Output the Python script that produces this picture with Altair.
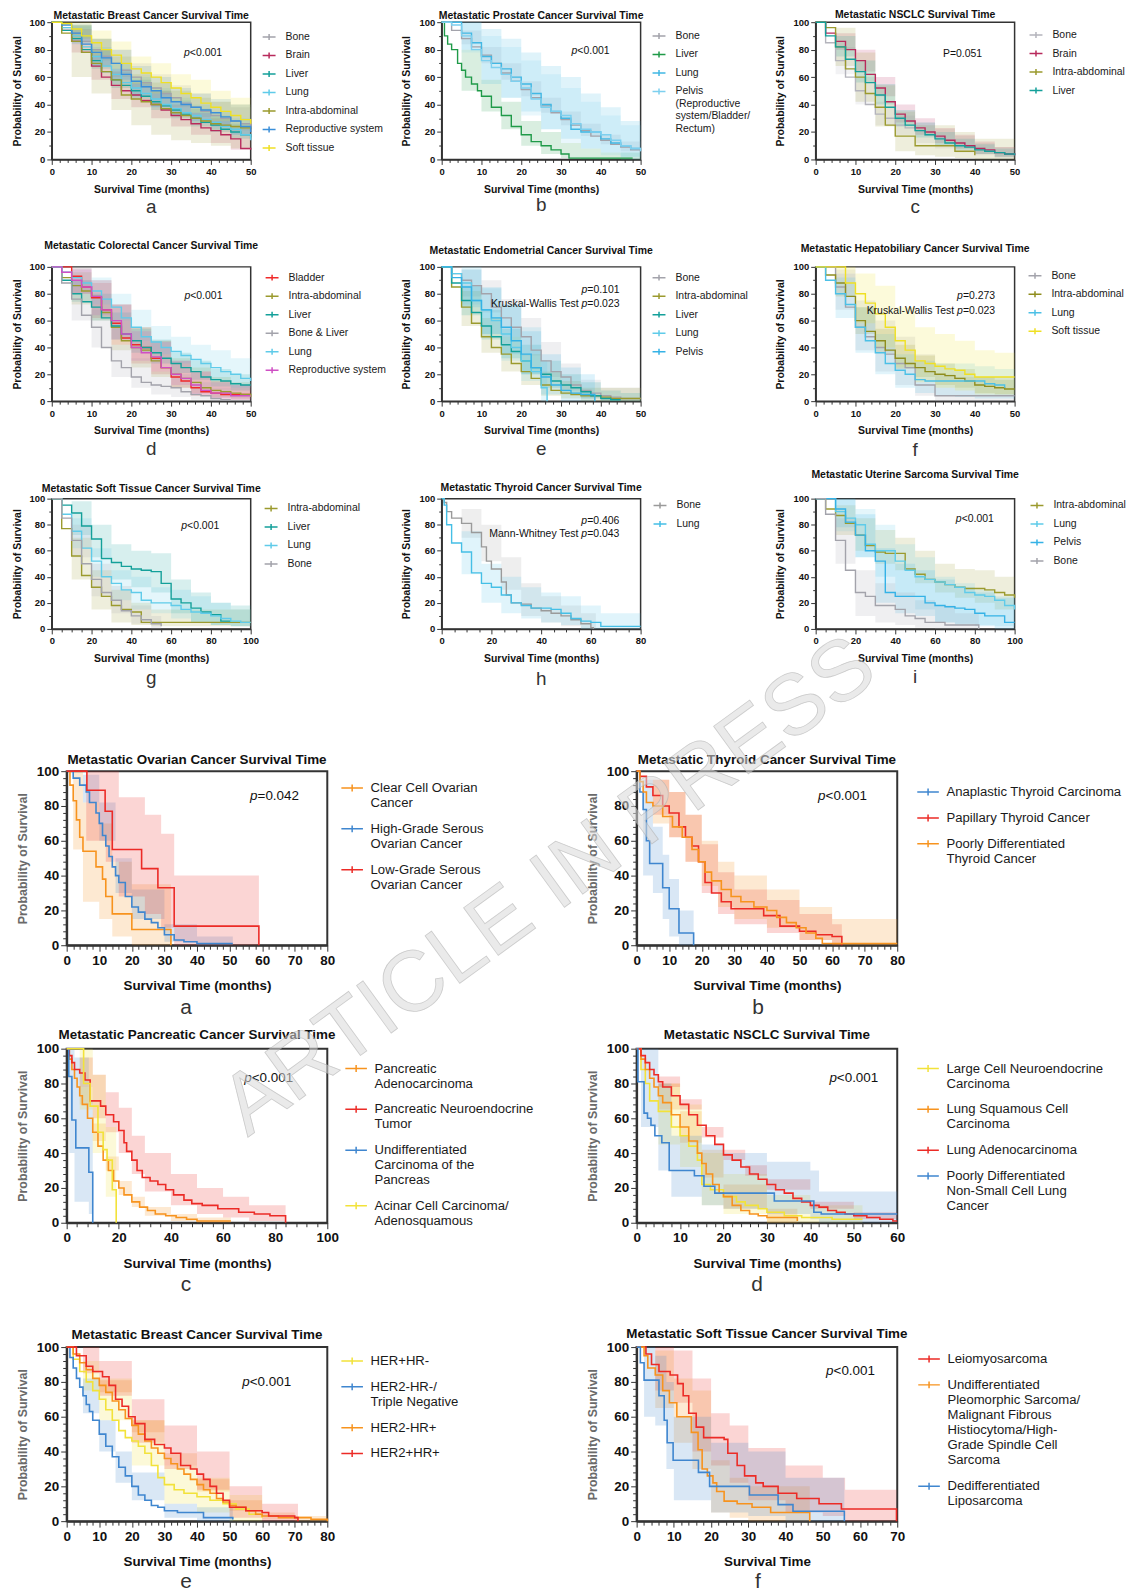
import altair as alt
import pandas as pd

FONT = "Liberation Sans, Arial, Helvetica, sans-serif"

# ---------------- time grids (months) ----------------
G50 = [0, 2.5, 5, 7.5, 10, 12.5, 15, 17.5, 20, 22.5, 25, 27.5, 30, 32.5, 35, 37.5, 40, 42.5, 45, 47.5, 50]
B50 = [0, 5, 10, 15, 20, 25, 30, 35, 40, 45, 50]
G100 = [0, 5, 10, 15, 20, 25, 30, 35, 40, 45, 50, 55, 60, 65, 70, 75, 80, 85, 90, 95, 100]
B100 = [0, 10, 20, 30, 40, 50, 60, 70, 80, 90, 100]
B80 = [0, 8, 16, 24, 32, 40, 48, 56, 64, 72, 80]

# ---------------- colours ----------------
GRAY = "#a3a3ab"
CRIMSON = "#b82a5c"
TEAL = "#14a09a"
LCYAN = "#5fcbe9"
OLIVE = "#9b9a2e"
BLUE_T = "#3b8fd9"
YELLOW_T = "#efe024"
GREEN_T = "#1f9a48"
CYAN2 = "#35b2e6"
RED_T = "#f02a2a"
MAGENTA = "#cf4fc4"
ORANGE_B = "#f7931e"
BLUE_B = "#3f86cf"
RED_B = "#ec2b26"
YELLOW_B = "#f2e23a"

# ================= TOP a : Metastatic Breast Cancer =================
BRE_BONE_S = [100, 96, 92, 86, 80, 75, 70, 65, 60, 56, 52, 48, 45, 41, 38, 35, 32, 30, 28, 26, 24]
BRE_BRAIN_S = [100, 94, 86, 78, 68, 60, 54, 50, 47, 43, 40, 36, 32, 29, 26, 23, 21, 18, 15, 8, 7]
BRE_LIVER_S = [100, 94, 88, 80, 72, 64, 58, 54, 50, 46, 42, 39, 36, 33, 30, 27, 25, 22, 20, 18, 16]
BRE_LUNG_S = [100, 96, 90, 82, 75, 68, 62, 56, 52, 48, 44, 40, 37, 34, 32, 29, 27, 24, 22, 18, 14]
BRE_INTRA_S = [100, 92, 86, 78, 70, 64, 58, 47, 44, 42, 40, 37, 34, 32, 30, 28, 26, 25, 24, 23, 22]
BRE_REPRO_S = [100, 98, 92, 84, 78, 74, 70, 62, 57, 53, 50, 45, 42, 40, 38, 36, 34, 31, 28, 24, 20]
BRE_SOFT_S = [100, 99, 95, 90, 85, 80, 76, 70, 66, 63, 60, 56, 52, 48, 45, 41, 38, 35, 32, 29, 26]
BRE_BONE_LO = [100, 86, 72, 60, 52, 44, 38, 31, 25, 21, 17]
BRE_BONE_HI = [100, 98, 88, 80, 70, 62, 54, 48, 42, 38, 34]
BRE_BRAIN_LO = [100, 78, 58, 44, 38, 30, 24, 18, 12, 7, 2]
BRE_BRAIN_HI = [100, 95, 80, 64, 56, 50, 40, 34, 30, 24, 15]
BRE_LIVER_LO = [100, 88, 66, 52, 44, 36, 30, 24, 20, 15, 11]
BRE_LIVER_HI = [100, 97, 80, 66, 58, 50, 43, 37, 32, 26, 22]
BRE_LUNG_LO = [100, 85, 68, 55, 46, 38, 32, 26, 22, 18, 10]
BRE_LUNG_HI = [100, 98, 82, 70, 60, 52, 45, 40, 35, 30, 24]
BRE_INTRA_LO = [100, 60, 48, 36, 25, 18, 14, 12, 10, 8, 6]
BRE_INTRA_HI = [100, 98, 88, 75, 62, 56, 50, 45, 42, 40, 38]
BRE_REPRO_LO = [100, 84, 68, 58, 46, 38, 32, 28, 24, 18, 10]
BRE_REPRO_HI = [100, 99, 88, 80, 68, 60, 52, 48, 44, 40, 32]
BRE_SOFT_LO = [100, 88, 76, 66, 55, 48, 42, 34, 28, 22, 15]
BRE_SOFT_HI = [100, 100, 94, 86, 75, 70, 62, 58, 50, 45, 38]

# ================= TOP b : Metastatic Prostate Cancer =================
PRO_BONE_S = [100, 94, 88, 82, 76, 70, 63, 57, 51, 45, 39, 34, 29, 25, 21, 17, 14, 11, 9, 7, 6]
PRO_LIVER_T = [0, 0.7, 1.5, 2.5, 4, 5, 6, 7.5, 9, 10, 12.5, 15, 17.5, 20, 22.5, 25, 27.5, 30, 32, 48]
PRO_LIVER_S = [100, 90, 84, 80, 70, 65, 60, 55, 50, 46, 38, 32, 24, 18, 13, 10, 7, 4, 1, 1]
PRO_LUNG_S = [100, 100, 92, 85, 75, 70, 66, 60, 55, 48, 40, 35, 30, 22, 20, 20, 15, 12, 10, 8, 8]
PRO_PELVIS_S = [100, 98, 90, 80, 72, 67, 62, 57, 52, 44, 38, 35, 32, 26, 22, 20, 18, 14, 10, 8, 6]
PRO_BONE_LO = [100, 84, 70, 58, 46, 34, 25, 17, 11, 6, 3]
PRO_BONE_HI = [100, 94, 82, 70, 57, 45, 35, 26, 18, 13, 9]
PRO_LIVER_LO = [100, 50, 35, 22, 10, 4, 1, 0, 0, 0, 0]
PRO_LIVER_HI = [100, 80, 58, 42, 28, 20, 12, 8, 5, 5, 5]
PRO_LUNG_LO = [100, 80, 55, 45, 35, 22, 15, 8, 5, 2, 0]
PRO_LUNG_HI = [100, 100, 95, 88, 78, 68, 60, 48, 38, 28, 22]
PRO_PELVIS_LO = [100, 78, 58, 45, 32, 22, 12, 8, 3, 0, 0]
PRO_PELVIS_HI = [100, 100, 90, 82, 72, 62, 52, 42, 32, 25, 20]

# ================= TOP c : Metastatic NSCLC =================
NSC_BONE_S = [100, 85, 72, 60, 50, 40, 33, 30, 25, 23, 21, 18, 16, 14, 12, 10, 8, 6, 5, 4, 3]
NSC_BRAIN_S = [100, 92, 86, 80, 72, 62, 52, 42, 33, 28, 23, 20, 17, 14, 12, 10, 8, 7, 5, 4, 3]
NSC_INTRA_S = [100, 96, 82, 66, 60, 48, 38, 25, 17, 17, 10, 10, 10, 10, 6, 6, 3]
NSC_LIVER_S = [100, 90, 82, 73, 64, 56, 47, 38, 30, 25, 21, 18, 15, 12, 10, 9, 7, 6, 5, 4, 3]
NSC_BONE_LO = [100, 62, 40, 25, 18, 12, 8, 5, 3, 1, 0]
NSC_BONE_HI = [100, 82, 60, 42, 32, 27, 22, 17, 12, 9, 7]
NSC_BRAIN_LO = [100, 80, 64, 46, 27, 18, 12, 8, 4, 2, 1]
NSC_BRAIN_HI = [100, 92, 80, 60, 40, 30, 23, 18, 13, 9, 6]
NSC_INTRA_LO = [100, 68, 42, 24, 6, 3, 2, 1, 0, 0, 0]
NSC_INTRA_HI = [100, 96, 78, 54, 35, 25, 25, 20, 15, 15, 15]
NSC_LIVER_LO = [100, 75, 56, 40, 24, 16, 10, 7, 4, 2, 1]
NSC_LIVER_HI = [100, 90, 72, 55, 36, 27, 20, 15, 11, 8, 6]

# ================= TOP d : Metastatic Colorectal Cancer =================
COL_BLADDER_S = [100, 100, 93, 85, 77, 68, 58, 47, 42, 40, 32, 25, 18, 15, 10, 7, 6, 5, 5, 5, 5]
COL_INTRA_S = [100, 92, 86, 82, 78, 66, 55, 45, 40, 38, 30, 25, 20, 17, 14, 10, 8, 7, 6, 5, 3]
COL_LIVER_S = [100, 90, 80, 74, 70, 62, 56, 50, 45, 40, 36, 32, 28, 25, 22, 18, 16, 15, 13, 12, 12]
COL_BONELIVER_S = [100, 88, 76, 64, 55, 40, 30, 25, 18, 14, 12, 11, 10, 7, 5, 4, 2, 1, 1]
COL_LUNG_S = [100, 96, 92, 88, 82, 76, 70, 62, 55, 48, 44, 40, 37, 34, 31, 28, 25, 22, 20, 17, 15]
COL_REPRO_S = [100, 96, 90, 85, 78, 68, 60, 50, 40, 36, 33, 25, 20, 17, 12, 8, 6, 6, 4, 4, 4]
COL_BLADDER_LO = [100, 80, 62, 42, 28, 20, 10, 4, 2, 1, 1]
COL_BLADDER_HI = [100, 99, 88, 72, 55, 45, 30, 22, 15, 12, 12]
COL_INTRA_LO = [100, 72, 60, 38, 25, 18, 10, 6, 3, 2, 0]
COL_INTRA_HI = [100, 96, 90, 72, 55, 45, 32, 25, 18, 14, 10]
COL_LIVER_LO = [100, 74, 60, 46, 36, 28, 21, 16, 11, 8, 6]
COL_LIVER_HI = [100, 90, 80, 66, 54, 46, 36, 30, 24, 20, 18]
COL_BONELIVER_LO = [100, 60, 40, 18, 10, 5, 3, 1, 0, 0, 0]
COL_BONELIVER_HI = [100, 90, 68, 42, 32, 22, 20, 14, 10, 5, 5]
COL_LUNG_LO = [100, 85, 72, 60, 45, 35, 28, 22, 15, 10, 5]
COL_LUNG_HI = [100, 99, 92, 80, 68, 56, 48, 42, 38, 32, 25]
COL_REPRO_LO = [100, 80, 64, 46, 30, 22, 12, 5, 2, 1, 0]
COL_REPRO_HI = [100, 98, 90, 72, 52, 44, 30, 22, 14, 12, 10]

# ================= TOP e : Metastatic Endometrial Cancer =================
END_BONE_S = [100, 95, 90, 86, 80, 70, 62, 55, 48, 38, 30, 22, 18, 12, 8, 6, 4, 3, 2, 2, 2]
END_INTRA_S = [100, 85, 70, 58, 48, 40, 35, 28, 22, 17, 12, 8, 6, 5, 4, 4, 3, 2, 2, 2, 2]
END_LIVER_S = [100, 88, 75, 66, 56, 48, 42, 37, 30, 25, 20, 15, 12, 10, 7, 4, 2, 1, 1]
END_LUNG_T = [0, 2.5, 5, 7.5, 10, 12.5, 15, 17.5, 20, 22.5, 25, 26.5]
END_LUNG_S = [100, 95, 88, 75, 68, 60, 50, 40, 30, 22, 10, 0]
END_PELVIS_T = [0, 2.5, 5, 7.5, 10, 12.5, 15, 17.5, 20, 22.5, 25, 27.5, 30, 32.5, 35, 37.5, 38.5]
END_PELVIS_S = [100, 92, 85, 75, 68, 62, 55, 45, 35, 25, 18, 12, 8, 6, 5, 5, 0]
END_BONE_LO = [100, 78, 66, 48, 34, 18, 8, 2, 0, 0, 0]
END_BONE_HI = [100, 98, 90, 76, 62, 44, 28, 16, 10, 10, 10]
END_INTRA_LO = [100, 56, 36, 22, 12, 4, 2, 0, 0, 0, 0]
END_INTRA_HI = [100, 82, 62, 48, 35, 22, 15, 10, 10, 10, 10]
END_LIVER_LO = [100, 64, 46, 32, 20, 10, 5, 2, 0, 0, 0]
END_LIVER_HI = [100, 86, 68, 54, 42, 30, 20, 14, 8, 6, 6]
END_LUNG_BT = [0, 5, 10, 15, 20, 25, 26.5]
END_LUNG_LO = [100, 72, 50, 30, 15, 0, 0]
END_LUNG_HI = [100, 100, 85, 72, 55, 30, 30]
END_PELVIS_BT = [0, 5, 10, 15, 20, 25, 30, 35, 38.5]
END_PELVIS_LO = [100, 70, 50, 35, 20, 5, 0, 0, 0]
END_PELVIS_HI = [100, 98, 84, 72, 52, 35, 25, 20, 20]

# ================= TOP f : Metastatic Hepatobiliary Cancer =================
HEP_BONE_S = [100, 100, 85, 70, 55, 48, 40, 35, 28, 25, 12, 12, 4, 4, 4, 4, 4, 4, 4, 4, 4]
HEP_INTRA_S = [100, 94, 88, 78, 60, 52, 45, 38, 32, 28, 25, 22, 20, 19, 17, 15, 12, 11, 10, 9, 9]
HEP_LUNG_S = [100, 90, 80, 72, 55, 45, 36, 28, 23, 20, 16, 15, 15, 15, 15, 15, 15, 13, 12, 10]
HEP_SOFT_S = [100, 100, 100, 88, 80, 73, 65, 55, 45, 38, 30, 28, 26, 24, 23, 20, 18, 18, 18, 18, 18]
HEP_BONE_LO = [100, 68, 38, 22, 12, 4, 0, 0, 0, 0, 0]
HEP_BONE_HI = [100, 98, 75, 60, 48, 35, 20, 18, 18, 18, 18]
HEP_INTRA_LO = [100, 78, 50, 36, 24, 18, 12, 10, 6, 5, 4]
HEP_INTRA_HI = [100, 95, 70, 54, 42, 34, 28, 24, 18, 16, 15]
HEP_LUNG_LO = [100, 62, 36, 20, 10, 6, 4, 3, 2, 2, 2]
HEP_LUNG_HI = [100, 92, 70, 50, 35, 30, 28, 28, 26, 24, 22]
HEP_SOFT_LO = [100, 95, 58, 40, 25, 14, 10, 8, 5, 5, 5]
HEP_SOFT_HI = [100, 100, 95, 86, 70, 55, 50, 45, 38, 36, 35]

# ================= TOP g : Metastatic Soft Tissue Cancer =================
SOF_INTRA_S = [100, 77, 56, 41, 32, 25, 18, 15, 13, 5, 5, 5, 5, 5, 5, 5, 5, 5, 5, 5, 5]
SOF_LIVER_S = [100, 95, 89, 79, 69, 54, 51, 48, 46, 45, 44, 35, 23, 20, 16, 13, 11, 6, 6]
SOF_LUNG_S = [100, 88, 75, 62, 52, 40, 35, 30, 28, 22, 20, 20, 18, 15, 13, 12, 10, 8, 6, 5, 5]
SOF_BONE_S = [100, 85, 68, 50, 38, 28, 22, 14, 10, 7, 4, 2]
SOF_INTRA_LO = [100, 38, 15, 5, 3, 2, 2, 2, 2, 2, 2]
SOF_INTRA_HI = [100, 70, 45, 30, 20, 15, 15, 15, 15, 15, 15]
SOF_LIVER_LO = [100, 72, 55, 38, 32, 28, 12, 5, 3, 2, 2]
SOF_LIVER_HI = [100, 98, 80, 65, 60, 58, 38, 28, 20, 18, 15]
SOF_LUNG_LO = [100, 62, 40, 22, 15, 12, 8, 5, 3, 2, 2]
SOF_LUNG_HI = [100, 85, 62, 45, 40, 32, 30, 25, 20, 15, 12]
SOF_BONE_BT = [0, 10, 20, 30, 40, 50, 55]
SOF_BONE_LO = [100, 55, 25, 12, 4, 0, 0]
SOF_BONE_HI = [100, 80, 50, 33, 18, 10, 10]

# ================= TOP h : Metastatic Thyroid Cancer =================
THB_BONE_T = [0, 1, 2, 4, 8, 12, 16, 18, 20, 24, 26, 28, 32, 36, 40, 44, 48, 52, 56, 60, 61]
THB_BONE_S = [100, 97, 90, 85, 81, 74, 63, 52, 46, 36, 26, 20, 19, 16, 14, 12, 10, 7, 4, 1, 0]
THB_LUNG_T = [0, 1, 2, 4, 8, 12, 16, 20, 24, 28, 32, 36, 40, 44, 48, 52, 56, 60, 64, 80]
THB_LUNG_S = [100, 95, 80, 66, 59, 43, 35, 32, 26, 20, 18, 16, 16, 15, 12, 8, 6, 5, 2, 2]
THB_BONE_BT = [0, 8, 16, 24, 32, 40, 48, 56, 62]
THB_BONE_LO = [100, 70, 52, 30, 10, 5, 2, 0, 0]
THB_BONE_HI = [100, 92, 80, 55, 35, 25, 18, 12, 12]
THB_LUNG_LO = [100, 42, 20, 12, 8, 5, 3, 0, 0, 0, 0]
THB_LUNG_HI = [100, 75, 50, 40, 32, 28, 25, 18, 12, 12, 12]

# ================= TOP i : Metastatic Uterine Sarcoma =================
UTS_INTRA_S = [100, 92, 87, 81, 72, 64, 59, 58, 58, 46, 42, 38, 36, 34, 32, 31, 31, 30, 28, 26, 24]
UTS_LUNG_S = [100, 100, 90, 85, 80, 65, 60, 60, 52, 45, 40, 38, 36, 34, 32, 28, 26, 25, 22, 18, 15]
UTS_PELVIS_S = [100, 100, 92, 82, 72, 60, 52, 28, 25, 25, 25, 20, 18, 17, 16, 15, 12, 10, 10, 5, 5]
UTS_BONE_T = [0, 5, 10, 15, 20, 25, 30, 35, 40, 45, 50, 55, 60, 65, 70, 75, 80, 82]
UTS_BONE_S = [100, 88, 68, 45, 28, 25, 18, 18, 15, 10, 8, 5, 5, 3, 3, 3, 3, 0]
UTS_INTRA_LO = [100, 72, 60, 50, 45, 35, 28, 24, 20, 15, 10]
UTS_INTRA_HI = [100, 95, 85, 76, 70, 60, 50, 46, 45, 40, 38]
UTS_LUNG_LO = [100, 75, 55, 40, 25, 15, 5, 4, 3, 2, 0]
UTS_LUNG_HI = [100, 100, 92, 80, 65, 55, 40, 35, 30, 25, 22]
UTS_PELVIS_LO = [100, 78, 55, 20, 12, 10, 5, 3, 2, 0, 0]
UTS_PELVIS_HI = [100, 100, 88, 62, 50, 45, 38, 32, 28, 24, 20]
UTS_BONE_BT = [0, 10, 20, 30, 40, 50, 60, 70, 82]
UTS_BONE_LO = [100, 50, 10, 5, 3, 1, 0, 0, 0]
UTS_BONE_HI = [100, 85, 45, 35, 28, 22, 18, 12, 10]

# ================= BOTTOM a : Ovarian =================
OVA_CLEAR_T = [0, 1, 2, 3, 4, 5, 9, 11, 12, 14, 20, 32]
OVA_CLEAR_S = [100, 92, 83, 72, 62, 54, 45, 38, 28, 18, 9, 0]
OVA_HGS_T = [0, 2, 4, 6, 7, 9, 10, 11, 12, 13, 14, 15, 16, 18, 20, 22, 24, 26, 28, 30, 33, 36, 40, 51]
OVA_HGS_S = [100, 96, 92, 88, 82, 76, 70, 63, 57, 51, 45, 40, 36, 28, 22, 19, 15, 13, 10, 6, 3, 2, 1, 1]
OVA_LGS_T = [0, 6.2, 11.8, 14, 23, 28, 33, 59]
OVA_LGS_S = [100, 89, 77, 55, 44, 33, 11, 0]
OVA_CLEAR_BT = [0, 2, 5, 10, 14, 20, 32]
OVA_CLEAR_LO = [100, 55, 25, 15, 5, 0, 0]
OVA_CLEAR_HI = [100, 100, 82, 70, 48, 35, 35]
OVA_HGS_BT = [0, 5, 10, 15, 20, 30, 40, 51]
OVA_HGS_LO = [100, 82, 60, 30, 15, 2, 0, 0]
OVA_HGS_HI = [100, 98, 82, 50, 32, 12, 5, 5]
OVA_LGS_BT = [0, 6, 12, 16, 24, 29, 33, 59]
OVA_LGS_LO = [100, 60, 48, 28, 18, 10, 0, 0]
OVA_LGS_HI = [100, 100, 100, 85, 75, 64, 40, 40]

# ================= BOTTOM b : Thyroid =================
THY_ANA_T = [0, 1, 2, 3, 4, 8, 10, 13, 17.5]
THY_ANA_S = [100, 88, 78, 60, 47, 33, 21, 7, 0]
THY_PAP_T = [0, 1, 3, 5, 8, 10, 13, 15, 17, 19, 21, 23, 26, 29, 35, 39, 44, 50, 55, 60, 63]
THY_PAP_S = [100, 97, 91, 86, 80, 76, 68, 62, 57, 48, 36, 30, 25, 21, 21, 17, 11, 8, 6, 5, 0]
THY_PD_T = [0, 1, 2, 3, 5, 8, 11, 14, 17, 19, 21, 23, 26, 29, 32, 36, 40, 43, 46, 49, 52, 55, 57, 80]
THY_PD_S = [100, 94, 88, 82, 80, 74, 68, 62, 55, 48, 42, 37, 32, 28, 25, 22, 20, 16, 13, 10, 7, 4, 1, 1]
THY_ANA_BT = [0, 2, 5, 8, 10, 13, 17.5]
THY_ANA_LO = [100, 40, 30, 15, 5, 0, 0]
THY_ANA_HI = [100, 95, 68, 52, 38, 20, 20]
THY_PAP_BT = [0, 5, 10, 15, 20, 25, 30, 40, 50, 60, 63]
THY_PAP_LO = [100, 75, 62, 48, 30, 18, 12, 7, 3, 0, 0]
THY_PAP_HI = [100, 95, 88, 75, 58, 42, 32, 26, 18, 12, 12]
THY_PD_BT = [0, 5, 10, 15, 20, 25, 30, 40, 50, 60, 80]
THY_PD_LO = [100, 70, 62, 48, 34, 22, 15, 10, 3, 0, 0]
THY_PD_HI = [100, 95, 88, 75, 60, 48, 40, 32, 22, 15, 8]

# ================= BOTTOM c : Pancreatic =================
PAN_ADENO_T = [0, 1, 2, 3, 4, 5, 6, 8, 10, 12, 14, 16, 18, 20, 22, 25, 28, 31, 34, 38, 42, 46, 50, 63]
PAN_ADENO_S = [100, 94, 88, 83, 78, 73, 68, 60, 52, 44, 36, 30, 24, 20, 16, 12, 9, 7, 5, 4, 3, 2, 1, 1]
PAN_NET_T = [0, 1, 2, 3, 5, 7, 9, 13, 15, 18, 20, 22, 23, 25, 27, 29, 32, 35, 38, 41, 45, 48, 52, 58, 66, 72, 78, 84]
PAN_NET_S = [100, 96, 92, 88, 86, 82, 70, 67, 62, 58, 53, 46, 41, 36, 30, 26, 24, 22, 19, 16, 13, 11, 10, 8, 6, 5, 4, 0]
PAN_UNDIFF_T = [0, 0.8, 2, 3.5, 8.5, 10]
PAN_UNDIFF_S = [100, 84, 59, 43, 29, 0]
PAN_ACINAR_T = [0, 5, 6.5, 9, 12, 14, 15.5, 17.5, 19]
PAN_ACINAR_S = [100, 100, 80, 67, 52, 42, 36, 19, 0]
PAN_ADENO_BT = [0, 5, 10, 15, 20, 25, 30, 40, 50, 63]
PAN_ADENO_LO = [100, 68, 47, 30, 16, 9, 4, 1, 0, 0]
PAN_ADENO_HI = [100, 78, 57, 38, 24, 15, 9, 5, 3, 3]
PAN_NET_BT = [0, 5, 10, 15, 20, 25, 30, 40, 50, 60, 70, 84]
PAN_NET_LO = [100, 78, 60, 52, 40, 28, 18, 10, 5, 3, 1, 0]
PAN_NET_HI = [100, 95, 85, 75, 66, 50, 40, 28, 20, 15, 10, 10]
PAN_UNDIFF_BT = [0, 1, 3, 8.5, 10]
PAN_UNDIFF_LO = [100, 40, 12, 5, 0]
PAN_UNDIFF_HI = [100, 100, 95, 70, 50]
PAN_ACINAR_BT = [0, 5, 10, 15, 19]
PAN_ACINAR_LO = [100, 65, 40, 15, 0]
PAN_ACINAR_HI = [100, 100, 85, 55, 30]

# ================= BOTTOM d : NSCLC =================
NS_LCNEC_T = [0, 1, 2, 3, 5, 8, 10, 12, 14, 15, 17, 20, 23, 25, 28, 30, 34, 38, 45, 52]
NS_LCNEC_S = [100, 88, 80, 70, 64, 55, 50, 44, 36, 22, 19, 15, 12, 10, 8, 6, 4, 3, 2, 2]
NS_SQ_T = [0, 1, 2, 3, 4, 5, 6, 8, 10, 12, 14, 15, 16, 17.5, 19, 20, 22, 24, 26, 28, 30, 37]
NS_SQ_S = [100, 94, 88, 83, 78, 73, 69, 62, 55, 47, 40, 34, 28, 22, 17, 15, 10, 7, 5, 4, 3, 1]
NS_ADENO_T = [0, 1, 2, 3, 4, 5, 6, 8, 10, 12, 14, 16, 18, 20, 22, 24, 26, 28, 30, 32, 34, 36, 38, 40, 42, 44, 46, 48, 50, 53, 56, 59, 60]
NS_ADENO_S = [100, 96, 92, 88, 85, 81, 78, 73, 68, 62, 56, 50, 45, 39, 36, 32, 28, 25, 22, 19, 17, 14, 12, 10, 9, 7, 6, 5, 4, 3, 2, 1, 1]
NS_PD_T = [0, 0.3, 1.7, 2.5, 3.3, 4.2, 5.8, 7.5, 13.3, 15.5, 18, 31.7, 40.8, 42.5, 60]
NS_PD_S = [100, 81, 63, 60, 56, 50, 46, 30, 27, 21, 17, 12.5, 6, 5, 5]
NS_LCNEC_BT = [0, 5, 10, 15, 20, 30, 40, 52]
NS_LCNEC_LO = [100, 45, 32, 10, 5, 0, 0, 0]
NS_LCNEC_HI = [100, 80, 68, 40, 28, 16, 10, 8]
NS_SQ_BT = [0, 5, 10, 15, 20, 30, 37]
NS_SQ_LO = [100, 65, 46, 26, 8, 0, 0]
NS_SQ_HI = [100, 80, 64, 42, 22, 8, 6]
NS_ADENO_BT = [0, 5, 10, 15, 20, 25, 30, 40, 50, 60]
NS_ADENO_LO = [100, 78, 65, 49, 36, 27, 19, 8, 2, 0]
NS_ADENO_HI = [100, 84, 71, 55, 42, 33, 25, 12, 6, 3]
NS_PD_BT = [0, 1, 5, 8, 15, 20, 30, 40, 42, 60]
NS_PD_LO = [100, 55, 30, 15, 10, 8, 5, 2, 0, 0]
NS_PD_HI = [100, 100, 80, 50, 45, 40, 35, 30, 18, 18]

# ================= BOTTOM e : Breast =================
BR_HERP_T = [0, 2, 4, 6, 8, 10, 12, 14, 16, 18, 20, 22, 24, 26, 28, 30, 33, 36, 40, 44, 48, 52, 56, 60]
BR_HERP_S = [100, 93, 86, 80, 75, 70, 64, 58, 52, 48, 46, 43, 39, 32, 25, 21, 18, 16, 14, 12, 10, 7, 4, 2]
BR_TN_T = [0, 1, 2, 3, 4, 5, 6, 7, 8, 10, 12, 14, 16, 18, 20, 22, 24, 26, 28, 30, 34, 40, 42, 51]
BR_TN_S = [100, 94, 88, 82, 77, 72, 67, 63, 58, 50, 43, 37, 31, 26, 20, 15, 12, 9, 8, 6, 5, 5, 2, 1]
BR_HRP_T = [0, 2, 4, 6, 8, 10, 12, 14, 16, 18, 20, 22, 24, 26, 28, 30, 32, 34, 36, 38, 40, 42, 44, 46, 48, 50, 52, 55, 58, 60, 65, 70, 75, 80]
BR_HRP_S = [100, 96, 91, 87, 82, 78, 74, 69, 64, 59, 55, 50, 46, 42, 39, 36, 33, 30, 27, 24, 21, 18, 16, 13, 11, 9, 8, 6, 4, 3, 2, 2, 1, 0]
BR_HER2P_T = [0, 3, 6, 8, 11, 13, 15, 17, 19, 21, 24, 27, 30, 32, 35, 38, 40, 42, 44, 46, 48, 50, 55, 60, 62, 70, 71]
BR_HER2P_S = [100, 95, 89, 86, 83, 78, 70, 66, 60, 56, 47, 44, 42, 39, 32, 30, 27, 24, 20, 16, 12, 8, 6, 5, 3, 2, 0]
BR_HERP_BT = [0, 5, 10, 20, 30, 40, 50, 60]
BR_HERP_LO = [100, 75, 58, 32, 10, 5, 0, 0]
BR_HERP_HI = [100, 92, 82, 58, 32, 25, 15, 8]
BR_TN_BT = [0, 5, 10, 15, 20, 30, 40, 51]
BR_TN_LO = [100, 62, 40, 22, 12, 2, 0, 0]
BR_TN_HI = [100, 82, 58, 40, 28, 10, 8, 5]
BR_HRP_BT = [0, 10, 20, 30, 40, 50, 60, 70, 80]
BR_HRP_LO = [100, 74, 51, 32, 17, 6, 1, 0, 0]
BR_HRP_HI = [100, 81, 58, 39, 24, 12, 5, 3, 2]
BR_HER2P_BT = [0, 5, 10, 20, 30, 40, 50, 60, 71]
BR_HER2P_LO = [100, 85, 72, 45, 30, 18, 2, 0, 0]
BR_HER2P_HI = [100, 100, 92, 70, 55, 40, 20, 10, 8]

# ================= BOTTOM f : Soft tissue =================
ST_LEIO_T = [0, 2.5, 4, 6, 9, 11, 12.5, 14, 16, 18, 23.5, 24.5, 27, 29, 32, 34, 38, 43, 49, 55, 69.8]
ST_LEIO_S = [100, 96, 90, 86, 84, 79, 72, 62, 54, 48, 47, 39, 32, 26, 22, 20, 16, 13, 10, 7, 0]
ST_UPS_T = [0, 2, 3, 5, 7, 8.8, 10.8, 14.7, 16.5, 17.6, 19, 20.5, 21.5, 23.5, 27, 31, 36, 46.5]
ST_UPS_S = [100, 95, 88, 84, 75, 68, 60, 51, 41, 30, 26, 22, 17, 11.5, 10, 8, 5, 0]
ST_DDL_T = [0, 1, 2, 6, 7.4, 8.2, 9.8, 16.6, 19.6, 30.3, 38, 42, 55.8]
ST_DDL_S = [100, 91, 81, 72, 58, 45, 35, 28, 20, 15, 9.5, 5.7, 0]
ST_LEIO_BT = [0, 5, 10, 15, 20, 25, 30, 40, 50, 56, 69.8]
ST_LEIO_LO = [100, 75, 68, 40, 32, 22, 12, 5, 3, 0, 0]
ST_LEIO_HI = [100, 100, 98, 82, 62, 55, 42, 32, 25, 18, 18]
ST_UPS_BT = [0, 5, 10, 15, 20, 25, 30, 46.5]
ST_UPS_LO = [100, 65, 45, 30, 5, 2, 0, 0]
ST_UPS_HI = [100, 98, 82, 75, 35, 25, 20, 15]
ST_DDL_BT = [0, 2, 5, 8, 10, 16, 20, 30, 40, 55.8]
ST_DDL_LO = [100, 60, 55, 30, 12, 12, 5, 3, 0, 0]
ST_DDL_HI = [100, 100, 95, 80, 60, 60, 45, 40, 25, 20]


def ser(name, color, t, s, bt, lo, hi):
    return {"name": name, "color": color, "t": t, "s": s, "bt": bt, "lo": lo, "hi": hi}


TOP = dict(W=200, H=135, tick=9.5, title=10.5, xtitle=10.5, ytitle=10.5, leg=10.5, sym=169,
           sympath="M-1,0L1,0M0,-0.45L0,0.45", rowpad=4.6, dom=1.5, major=5, minor=3, letter=19,
           ptxt=10.5, pdx=8.7, lw=1.4, bandop=0.17, xpad=8.5, ytpad=7, ymin=10, ymaj=20,
           ytcolor="#111", laboff=9)
BOT = dict(W=262, H=175, tick=13.5, title=13.5, xtitle=13.5, ytitle=12.5, leg=13.2, sym=196,
           sympath="M-1.55,0L1.55,0M0,-0.5L0,0.5", rowpad=11, dom=2, major=6, minor=4, letter=21,
           ptxt=13.5, pdx=11, lw=1.6, bandop=0.2, xpad=12, ytpad=7, ymin=4, ymaj=20,
           ytcolor="#6a6a6a", laboff=10.5)


def make_panel(cfg, st):
    W, H = st["W"], cfg.get("H", st["H"])
    names = [x["name"] for x in cfg["series"]]
    cols = [x["color"] for x in cfg["series"]]
    keys = [f"band{i}" for i in range(len(names))]
    lrows, brows = [], []
    for i, x in enumerate(cfg["series"]):
        for t, v in zip(x["t"], x["s"]):
            lrows.append({"t": t, "s": v, "grp": x["name"]})
        for t, a, b in zip(x["bt"], x["lo"], x["hi"]):
            brows.append({"t": t, "lo": a, "hi": b, "bk": keys[i]})
    xmax, xminor, xmajor = cfg["x"]
    xvals = [i * xminor for i in range(int(round(xmax / xminor)) + 1)]
    yvals = [i * st["ymin"] for i in range(int(100 / st["ymin"]) + 1)]

    def axis(vals, major, tpad, tsize, tcolor):
        return alt.Axis(
            values=vals, grid=False,
            labelExpr=f"datum.value % {major} === 0 ? datum.label : ''",
            tickSize={"condition": {"test": f"datum.value % {major} === 0", "value": st["major"]},
                      "value": st["minor"]},
            labelOverlap=False, labelFlush=False, labelPadding=2,
            labelFont=FONT, labelFontSize=st["tick"], labelFontWeight="bold", labelColor="#111",
            titleFont=FONT, titleFontSize=tsize, titleFontWeight="bold", titleColor=tcolor,
            titlePadding=tpad, domainColor="#333", domainWidth=st["dom"],
            tickColor="#333", tickWidth=1)

    xa = axis(xvals, xmajor, st["xpad"], st["xtitle"], "#111")
    ya = axis(yvals, st["ymaj"], st["ytpad"], st["ytitle"], st["ytcolor"])
    xs = alt.Scale(domain=[0, xmax], nice=False)
    ys = alt.Scale(domain=[0, 100], nice=False)
    xt = cfg.get("xtitle", "Survival Time (months)")
    yt = "Probability of Survival"

    def X():
        return alt.X("t:Q", scale=xs, axis=xa, title=xt)

    def Y(f):
        return alt.Y(f"{f}:Q", scale=ys, axis=ya, title=yt)

    band = alt.Chart(pd.DataFrame(brows)).mark_area(
        interpolate="step-after", opacity=st["bandop"]).encode(
        x=X(), y=Y("lo"), y2="hi:Q",
        fill=alt.Fill("bk:N", scale=alt.Scale(domain=keys, range=cols), legend=None))
    lx, ly = cfg["leg"]
    line = alt.Chart(pd.DataFrame(lrows)).mark_line(
        interpolate="step-after", strokeWidth=st["lw"]).encode(
        x=X(), y=Y("s"),
        stroke=alt.Stroke("grp:N", scale=alt.Scale(domain=names, range=cols),
                          legend=alt.Legend(title=None, orient="none", legendX=W + lx, legendY=ly,
                                            padding=0, labelFont=FONT, labelFontSize=st["leg"],
                                            labelColor="#1a1a1a", labelLimit=500,
                                            labelOffset=st["laboff"],
                                            labelExpr="split(datum.label, '|')",
                                            symbolType=st["sympath"], symbolSize=st["sym"],
                                            symbolStrokeWidth=1.5, rowPadding=st["rowpad"])))
    ann = pd.DataFrame([{"t": a[0], "s": a[1], "pre": a[2], "pch": a[3], "suf": a[4]}
                        for a in cfg["ann"]])
    base = alt.Chart(ann)
    tkw = dict(baseline="middle", font=FONT, fontSize=st["ptxt"], color="#111")
    suf = base.mark_text(align="left", **tkw).encode(x=X(), y=Y("s"), text="suf:N")
    pch = base.mark_text(align="right", fontStyle="italic", **tkw).encode(x=X(), y=Y("s"), text="pch:N")
    pre = base.mark_text(align="right", dx=-st["pdx"], **tkw).encode(x=X(), y=Y("s"), text="pre:N")
    let = alt.Chart(pd.DataFrame({"k": [0]})).mark_text(
        font=FONT, fontSize=st["letter"], color="#333", align="center", baseline="middle").encode(
        x=alt.value(W / 2 + cfg.get("ldx", 0)), y=alt.value(H + cfg["ldy"]),
        text=alt.value(cfg["letter"]))
    title = alt.TitleParams(cfg["title"], font=FONT, fontSize=st["title"], fontWeight="bold",
                            color="#111", offset=cfg["toff"], anchor="middle")
    return alt.layer(band, line, pre, pch, suf, let).properties(
        width=W, height=H, title=title,
        view=alt.ViewBackground(stroke="#333", strokeWidth=st["dom"]))


def spacer(w, h):
    return alt.Chart(pd.DataFrame({"k": [0]})).mark_point(opacity=0).encode(
        x=alt.value(0), y=alt.value(0)).properties(
        width=w, height=h, view=alt.ViewBackground(stroke="transparent"))


# ---------------- panel definitions ----------------
P_A = dict(title="Metastatic Breast Cancer Survival Time", x=(50, 2, 10), letter="a", H=138, ldy=48, toff=-4.5,
           leg=(11, 7.4), ann=[(34.7, 77.5, "", "p", "<0.001")], series=[
               ser("Bone", GRAY, G50, BRE_BONE_S, B50, BRE_BONE_LO, BRE_BONE_HI),
               ser("Brain", CRIMSON, G50, BRE_BRAIN_S, B50, BRE_BRAIN_LO, BRE_BRAIN_HI),
               ser("Liver", TEAL, G50, BRE_LIVER_S, B50, BRE_LIVER_LO, BRE_LIVER_HI),
               ser("Lung", LCYAN, G50, BRE_LUNG_S, B50, BRE_LUNG_LO, BRE_LUNG_HI),
               ser("Intra-abdominal", OLIVE, G50, BRE_INTRA_S, B50, BRE_INTRA_LO, BRE_INTRA_HI),
               ser("Reproductive system", BLUE_T, G50, BRE_REPRO_S, B50, BRE_REPRO_LO, BRE_REPRO_HI),
               ser("Soft tissue", YELLOW_T, G50, BRE_SOFT_S, B50, BRE_SOFT_LO, BRE_SOFT_HI)])
P_B = dict(title="Metastatic Prostate Cancer Survival Time", x=(50, 2, 10), letter="b", H=138, ldy=46, toff=-4,
           leg=(11, 6.4), ann=[(34.1, 79, "", "p", "<0.001")], series=[
               ser("Bone", GRAY, G50, PRO_BONE_S, B50, PRO_BONE_LO, PRO_BONE_HI),
               ser("Liver", GREEN_T, PRO_LIVER_T, PRO_LIVER_S, B50, PRO_LIVER_LO, PRO_LIVER_HI),
               ser("Lung", "#42b8e4", G50, PRO_LUNG_S, B50, PRO_LUNG_LO, PRO_LUNG_HI),
               ser("Pelvis|(Reproductive|system/Bladder/|Rectum)", "#7dd0ef", G50, PRO_PELVIS_S, B50,
                   PRO_PELVIS_LO, PRO_PELVIS_HI)])
P_C = dict(title="Metastatic NSCLC Survival Time", x=(50, 2, 10), letter="c", H=138, ldy=48, toff=-3.5,
           leg=(14, 5.4), ann=[(32.0, 77, "", "", "P=0.051")], series=[
               ser("Bone", "#b4b4bc", G50, NSC_BONE_S, B50, NSC_BONE_LO, NSC_BONE_HI),
               ser("Brain", CRIMSON, G50, NSC_BRAIN_S, B50, NSC_BRAIN_LO, NSC_BRAIN_HI),
               ser("Intra-abdominal", OLIVE, G50[:17], NSC_INTRA_S, B50, NSC_INTRA_LO, NSC_INTRA_HI),
               ser("Liver", TEAL, G50, NSC_LIVER_S, B50, NSC_LIVER_LO, NSC_LIVER_HI)])
P_D = dict(title="Metastatic Colorectal Cancer Survival Time", x=(50, 2, 10), letter="d", ldy=48, toff=10.5,
           leg=(14, 3.4), ann=[(34.8, 78, "", "p", "<0.001")], series=[
               ser("Bladder", RED_T, G50, COL_BLADDER_S, B50, COL_BLADDER_LO, COL_BLADDER_HI),
               ser("Intra-abdominal", OLIVE, G50, COL_INTRA_S, B50, COL_INTRA_LO, COL_INTRA_HI),
               ser("Liver", TEAL, G50, COL_LIVER_S, B50, COL_LIVER_LO, COL_LIVER_HI),
               ser("Bone & Liver", GRAY, G50[:19], COL_BONELIVER_S, B50, COL_BONELIVER_LO, COL_BONELIVER_HI),
               ser("Lung", LCYAN, G50, COL_LUNG_S, B50, COL_LUNG_LO, COL_LUNG_HI),
               ser("Reproductive system", MAGENTA, G50, COL_REPRO_S, B50, COL_REPRO_LO, COL_REPRO_HI)])
P_E = dict(title="Metastatic Endometrial Cancer Survival Time", x=(50, 2, 10), letter="e", ldy=48, toff=5.5,
           leg=(11, 3.4), ann=[(36.6, 82.5, "", "p", "=0.101"), (36.6, 72, "Kruskal-Wallis Test", "p", "=0.023")],
           series=[
               ser("Bone", GRAY, G50, END_BONE_S, B50, END_BONE_LO, END_BONE_HI),
               ser("Intra-abdominal", OLIVE, G50, END_INTRA_S, B50, END_INTRA_LO, END_INTRA_HI),
               ser("Liver", TEAL, G50[:19], END_LIVER_S, B50, END_LIVER_LO, END_LIVER_HI),
               ser("Lung", LCYAN, END_LUNG_T, END_LUNG_S, END_LUNG_BT, END_LUNG_LO, END_LUNG_HI),
               ser("Pelvis", CYAN2, END_PELVIS_T, END_PELVIS_S, END_PELVIS_BT, END_PELVIS_LO, END_PELVIS_HI)])
P_F = dict(title="Metastatic Hepatobiliary Cancer Survival Time", x=(50, 2, 10), letter="f", ldy=49, toff=7.5,
           leg=(13, 1.4), ann=[(37.0, 78, "", "p", "=0.273"), (37.0, 67, "Kruskal-Wallis Test", "p", "=0.023")],
           series=[
               ser("Bone", GRAY, G50, HEP_BONE_S, B50, HEP_BONE_LO, HEP_BONE_HI),
               ser("Intra-abdominal", "#8f8d1e", G50, HEP_INTRA_S, B50, HEP_INTRA_LO, HEP_INTRA_HI),
               ser("Lung", "#4cc0e6", G50[:20], HEP_LUNG_S, B50, HEP_LUNG_LO, HEP_LUNG_HI),
               ser("Soft tissue", YELLOW_T, G50, HEP_SOFT_S, B50, HEP_SOFT_LO, HEP_SOFT_HI)])
P_G = dict(title="Metastatic Soft Tissue Cancer Survival Time", x=(100, 5, 20), letter="g", H=131, ldy=49, toff=-0.5,
           leg=(13, 2.4), ann=[(68.0, 79, "", "p", "<0.001")], series=[
               ser("Intra-abdominal", OLIVE, G100, SOF_INTRA_S, B100, SOF_INTRA_LO, SOF_INTRA_HI),
               ser("Liver", TEAL, G100[:19], SOF_LIVER_S, B100, SOF_LIVER_LO, SOF_LIVER_HI),
               ser("Lung", LCYAN, G100, SOF_LUNG_S, B100, SOF_LUNG_LO, SOF_LUNG_HI),
               ser("Bone", GRAY, G100[:12], SOF_BONE_S, SOF_BONE_BT, SOF_BONE_LO, SOF_BONE_HI)])
P_H = dict(title="Metastatic Thyroid Cancer Survival Time", x=(80, 5, 20), letter="h", H=131, ldy=50, toff=0.5,
           leg=(12, -0.6), ann=[(58.5, 83, "", "p", "=0.406"), (58.5, 73, "Mann-Whitney Test", "p", "=0.043")],
           series=[
               ser("Bone", "#9a9a9a", THB_BONE_T, THB_BONE_S, THB_BONE_BT, THB_BONE_LO, THB_BONE_HI),
               ser("Lung", "#45bfe6", THB_LUNG_T, THB_LUNG_S, B80, THB_LUNG_LO, THB_LUNG_HI)])
P_I = dict(title="Metastatic Uterine Sarcoma Survival Time", x=(100, 5, 20), letter="i", H=131, ldy=48, toff=13.5,
           leg=(15, -0.6), ann=[(73.4, 84, "", "p", "<0.001")], series=[
               ser("Intra-abdominal", OLIVE, G100, UTS_INTRA_S, B100, UTS_INTRA_LO, UTS_INTRA_HI),
               ser("Lung", LCYAN, G100, UTS_LUNG_S, B100, UTS_LUNG_LO, UTS_LUNG_HI),
               ser("Pelvis", CYAN2, G100, UTS_PELVIS_S, B100, UTS_PELVIS_LO, UTS_PELVIS_HI),
               ser("Bone", GRAY, UTS_BONE_T, UTS_BONE_S, UTS_BONE_BT, UTS_BONE_LO, UTS_BONE_HI)])

Q_A = dict(title="Metastatic Ovarian Cancer Survival Time", x=(80, 2, 10), letter="a", ldy=63, ldx=-11, toff=-2,
           leg=(17, 9), ann=[(58.6, 86, "", "p", "=0.042")], series=[
               ser("Clear Cell Ovarian|Cancer", ORANGE_B, OVA_CLEAR_T, OVA_CLEAR_S, OVA_CLEAR_BT, OVA_CLEAR_LO, OVA_CLEAR_HI),
               ser("High-Grade Serous|Ovarian Cancer", BLUE_B, OVA_HGS_T, OVA_HGS_S, OVA_HGS_BT, OVA_HGS_LO, OVA_HGS_HI),
               ser("Low-Grade Serous|Ovarian Cancer", RED_B, OVA_LGS_T, OVA_LGS_S, OVA_LGS_BT, OVA_LGS_LO, OVA_LGS_HI)])
Q_B = dict(title="Metastatic Thyroid Cancer Survival Time", x=(80, 2, 10), letter="b", ldy=63, ldx=-9, toff=-2,
           leg=(23, 13), ann=[(58.0, 86, "", "p", "<0.001")], series=[
               ser("Anaplastic Thyroid Carcinoma", BLUE_B, THY_ANA_T, THY_ANA_S, THY_ANA_BT, THY_ANA_LO, THY_ANA_HI),
               ser("Papillary Thyroid Cancer", RED_B, THY_PAP_T, THY_PAP_S, THY_PAP_BT, THY_PAP_LO, THY_PAP_HI),
               ser("Poorly Differentiated|Thyroid Cancer", ORANGE_B, THY_PD_T, THY_PD_S, THY_PD_BT, THY_PD_LO, THY_PD_HI)])
Q_C = dict(title="Metastatic Pancreatic Cancer Survival Time", x=(100, 4, 20), letter="c", ldy=63, ldx=-11, toff=0,
           leg=(21, 12), ann=[(71.0, 83, "", "p", "<0.001")], series=[
               ser("Pancreatic|Adenocarcinoma", ORANGE_B, PAN_ADENO_T, PAN_ADENO_S, PAN_ADENO_BT, PAN_ADENO_LO, PAN_ADENO_HI),
               ser("Pancreatic Neuroendocrine|Tumor", RED_B, PAN_NET_T, PAN_NET_S, PAN_NET_BT, PAN_NET_LO, PAN_NET_HI),
               ser("Undifferentiated|Carcinoma of the|Pancreas", BLUE_B, PAN_UNDIFF_T, PAN_UNDIFF_S, PAN_UNDIFF_BT, PAN_UNDIFF_LO, PAN_UNDIFF_HI),
               ser("Acinar Cell Carcinoma/|Adenosquamous", YELLOW_B, PAN_ACINAR_T, PAN_ACINAR_S, PAN_ACINAR_BT, PAN_ACINAR_LO, PAN_ACINAR_HI)])
Q_D = dict(title="Metastatic NSCLC Survival Time", x=(60, 2, 10), letter="d", ldy=63, ldx=-10, toff=0,
           leg=(23, 12), ann=[(46.1, 83, "", "p", "<0.001")], series=[
               ser("Large Cell Neuroendocrine|Carcinoma", YELLOW_B, NS_LCNEC_T, NS_LCNEC_S, NS_LCNEC_BT, NS_LCNEC_LO, NS_LCNEC_HI),
               ser("Lung Squamous Cell|Carcinoma", ORANGE_B, NS_SQ_T, NS_SQ_S, NS_SQ_BT, NS_SQ_LO, NS_SQ_HI),
               ser("Lung Adenocarcinoma", RED_B, NS_ADENO_T, NS_ADENO_S, NS_ADENO_BT, NS_ADENO_LO, NS_ADENO_HI),
               ser("Poorly Differentiated|Non-Small Cell Lung|Cancer", BLUE_B, NS_PD_T, NS_PD_S, NS_PD_BT, NS_PD_LO, NS_PD_HI)])
Q_E = dict(title="Metastatic Breast Cancer Survival Time", x=(80, 2, 10), letter="e", ldy=61, ldx=-11, toff=-1,
           leg=(17, 6), ann=[(56.2, 80, "", "p", "<0.001")], series=[
               ser("HER+HR-", YELLOW_B, BR_HERP_T, BR_HERP_S, BR_HERP_BT, BR_HERP_LO, BR_HERP_HI),
               ser("HER2-HR-/|Triple Negative", BLUE_B, BR_TN_T, BR_TN_S, BR_TN_BT, BR_TN_LO, BR_TN_HI),
               ser("HER2-HR+", ORANGE_B, BR_HRP_T, BR_HRP_S, BR_HRP_BT, BR_HRP_LO, BR_HRP_HI),
               ser("HER2+HR+", RED_B, BR_HER2P_T, BR_HER2P_S, BR_HER2P_BT, BR_HER2P_LO, BR_HER2P_HI)])
Q_F = dict(title="Metastatic Soft Tissue Cancer Survival Time", x=(70, 2, 10), letter="f", ldy=61, ldx=-9, toff=0,
           xtitle="Survival Time", leg=(24, 4), ann=[(52.9, 86, "", "p", "<0.001")], series=[
               ser("Leiomyosarcoma", RED_B, ST_LEIO_T, ST_LEIO_S, ST_LEIO_BT, ST_LEIO_LO, ST_LEIO_HI),
               ser("Undifferentiated|Pleomorphic Sarcoma/|Malignant Fibrous|Histiocytoma/High-|Grade Spindle Cell|Sarcoma",
                   ORANGE_B, ST_UPS_T, ST_UPS_S, ST_UPS_BT, ST_UPS_LO, ST_UPS_HI),
               ser("Dedifferentiated|Liposarcoma", BLUE_B, ST_DDL_T, ST_DDL_S, ST_DDL_BT, ST_DDL_LO, ST_DDL_HI)])

# watermark lives in an invisible 1x1 cell at the bottom-right of the lower grid
watermark_cell = alt.Chart(pd.DataFrame({"k": [0]})).mark_text(
    text="ARTICLE IN PRESS", angle=324, fontSize=86, font=FONT, align="center", baseline="middle",
    fill="#d9d9d9", fillOpacity=0.55, stroke="#b0b0b0", strokeWidth=0.8, strokeOpacity=0.6).encode(
    x=alt.value(-350), y=alt.value(-463)).properties(
    width=1, height=1, view=alt.ViewBackground(stroke="transparent"))

pa, pb, pc = make_panel(P_A, TOP), make_panel(P_B, TOP), make_panel(P_C, TOP)
pd_, pe, pf = make_panel(P_D, TOP), make_panel(P_E, TOP), make_panel(P_F, TOP)
pg, ph, pi = make_panel(P_G, TOP), make_panel(P_H, TOP), make_panel(P_I, TOP)
qa, qb = make_panel(Q_A, BOT), make_panel(Q_B, BOT)
qc, qd = make_panel(Q_C, BOT), make_panel(Q_D, BOT)
qe, qf = make_panel(Q_E, BOT), make_panel(Q_F, BOT)

top_cells = []
for p1, p2, p3, row_h in [(pa, pb, pc, 246), (pd_, pe, pf, 233), (pg, ph, pi, 1)]:
    top_cells += [p1, spacer(192, row_h), p2, spacer(176, 1), p3]
bot_cells = []
for p1, p2, gap, last in [(qa, qb, 104, None), (qc, qd, 125, None), (qe, qf, 0, watermark_cell)]:
    bot_cells += [spacer(15, 175 + gap if gap else 1), p1, spacer(311, 1), p2,
                  last if last is not None else spacer(1, 1)]

LAYOUT = dict(columns=5, spacing=0, bounds="flush", align={"row": "each", "column": "none"})
top_grid = alt.concat(*top_cells, **LAYOUT).resolve_scale(
    stroke="independent", fill="independent").resolve_legend(stroke="independent", fill="independent")
bot_grid = alt.concat(*bot_cells, **LAYOUT).resolve_scale(
    stroke="independent", fill="independent").resolve_legend(stroke="independent", fill="independent")

chart = alt.vconcat(top_grid, bot_grid, spacing=753, bounds="flush").resolve_scale(
    stroke="independent", fill="independent").resolve_legend(
    stroke="independent", fill="independent").properties(
    padding={"left": 3, "top": -3, "right": 0, "bottom": 0}).configure_view(stroke="transparent")

chart.save("out.html", embed_options={"renderer": "svg", "actions": False})
